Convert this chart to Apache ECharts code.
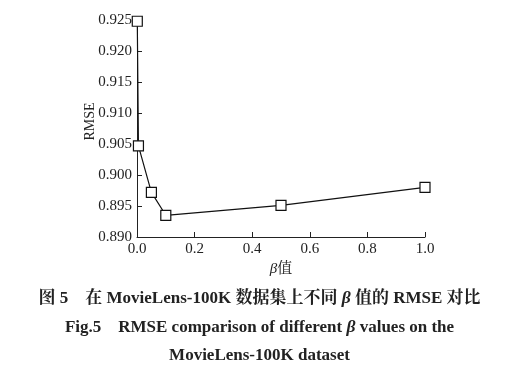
<!DOCTYPE html>
<html><head><meta charset="utf-8">
<script src="https://cdn.jsdelivr.net/npm/echarts@6/dist/echarts.min.js"></script>
<style>html,body{margin:0;padding:0;background:#fff}#c{width:519px;height:374px}</style>
</head><body><div id="c"></div>
<script>
const betaValues = [0.001, 0.005, 0.05, 0.1, 0.5, 1.0];
const rmseValues = [0.9248, 0.9047, 0.8972, 0.8935, 0.8951, 0.8980];
const xName = '{i|β}值';
const yName = 'RMSE';
const captionLines = [
  '图 5　在 MovieLens-100K 数据集上不同 {i|β} 值的 RMSE 对比',
  'Fig.5　RMSE comparison of different {i|β} values on the',
  'MovieLens-100K dataset'
];
const serif = '"Liberation Serif","Noto Serif CJK SC","Noto Sans CJK SC",serif';
const chart = echarts.init(document.getElementById('c'));
chart.setOption({
  backgroundColor: '#fff',
  animation: false,
  grid: {left: 137, right: 94, top: 20, bottom: 137},
  xAxis: {
    type: 'value', min: 0, max: 1, interval: 0.2,
    name: xName, nameLocation: 'middle', nameGap: 25,
    nameTextStyle: {fontFamily: serif, fontSize: 15, color: '#222',
      rich: {i: {fontFamily: serif, fontSize: 15, fontStyle: 'italic', color: '#222'}}},
    axisLine: {lineStyle: {color: '#222', width: 1}},
    axisTick: {inside: true, length: 5, lineStyle: {color: '#222'}},
    axisLabel: {fontFamily: serif, fontSize: 15, color: '#222', margin: 5, formatter: v => v.toFixed(1)},
    splitLine: {show: false}
  },
  yAxis: {
    type: 'value', min: 0.890, max: 0.925, interval: 0.005,
    name: yName, nameLocation: 'middle', nameGap: 40, nameRotate: 90, nameMoveOverlap: false,
    nameTextStyle: {fontFamily: serif, fontSize: 14, color: '#222', padding: [0, 0, 0, 14]},
    axisLine: {show: true, lineStyle: {color: '#222', width: 1}},
    axisTick: {show: true, inside: true, length: 5, lineStyle: {color: '#222'}},
    axisLabel: {fontFamily: serif, fontSize: 15, color: '#222', margin: 5, formatter: v => v.toFixed(3)},
    splitLine: {show: false}
  },
  series: [{
    type: 'line',
    data: betaValues.map((b, i) => [b, rmseValues[i]]),
    symbol: 'rect', symbolSize: 10,
    itemStyle: {color: '#fff', borderColor: '#111', borderWidth: 1.2},
    lineStyle: {color: '#111', width: 1.2}
  }],
  graphic: captionLines.map((t, i) => ({
    type: 'text', left: 'center', top: 290 + i * 28.5,
    style: {text: t, fontFamily: serif, fontSize: 17, fontWeight: 'bold', fill: '#222',
      rich: {i: {fontFamily: serif, fontSize: 17.5, fontWeight: 'bold', fontStyle: 'italic', fill: '#222'}}}
  }))
});
</script></body></html>
